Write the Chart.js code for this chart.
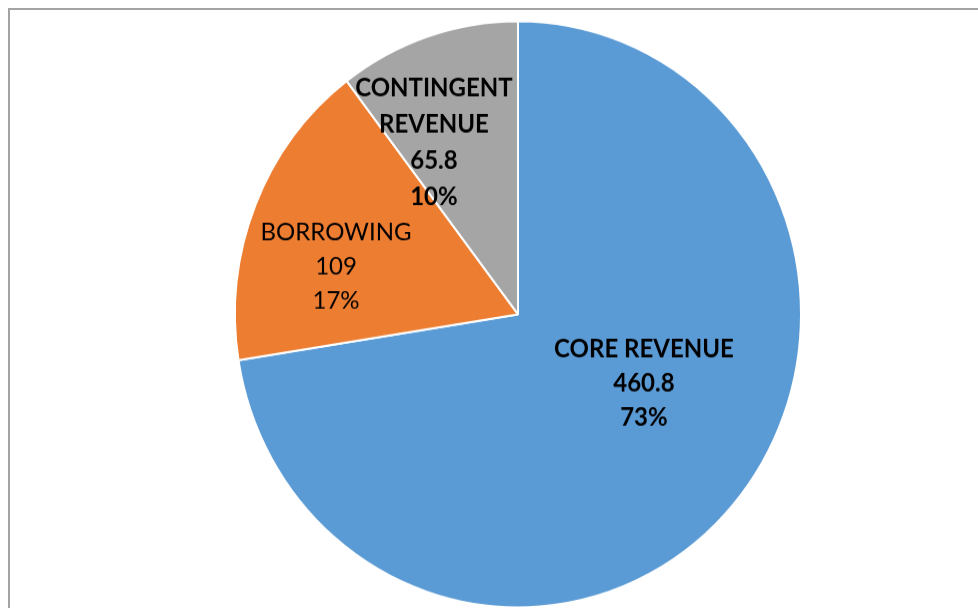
<!DOCTYPE html>
<html>
<head>
<meta charset="utf-8">
<script src="https://cdn.jsdelivr.net/npm/chart.js@4/dist/chart.umd.min.js"></script>
<style>
  html, body { margin: 0; padding: 0; background: #ffffff; }
  #wrap { position: relative; width: 978px; height: 608px; overflow: hidden; background: #ffffff; }
  #frame { position: absolute; left: 8px; top: 8px; right: -4px; bottom: -4px;
           border-top: 2px solid #a3a3a3; border-left: 2px solid #a3a3a3; pointer-events: none; }
  #pie { position: absolute; left: 0; top: 0; transform-origin: 0 0; transform: scaleY(1.0358); }
</style>
</head>
<body>
<div id="wrap">
  <canvas id="pie" width="978" height="620"></canvas>
  <div id="frame"></div>
</div>
<script>
// Revenue sources
const categories = ['CORE REVENUE', 'BORROWING', 'CONTINGENT REVENUE'];
const amounts = [460.8, 109, 65.8];
const amountLabels = ['460.8', '109', '65.8'];
const shareLabels = ['73%', '17%', '10%'];
const sliceColors = ['#5B9BD5', '#ED7D31', '#A5A5A5'];

// label text lines per slice (category name may wrap)
const nameLines = [['CORE REVENUE'], ['BORROWING'], ['CONTINGENT', 'REVENUE']];
// where each label block sits, in fractions of the pie radius from its centre
const labelAnchor = [[0.445, 0.238], [-0.643, -0.163], [-0.297, -0.586]];
const labelBold = [true, false, true];
const labelLineHeight = [33, 33, 35];

const sliceLabels = {
  id: 'sliceLabels',
  afterDatasetsDraw(chart) {
    const ctx = chart.ctx;
    const arcs = chart.getDatasetMeta(0).data;
    ctx.save();
    ctx.fillStyle = '#000000';
    ctx.textAlign = 'center';
    ctx.textBaseline = 'middle';
    arcs.forEach((arc, i) => {
      const r = arc.outerRadius;
      const cx = arc.x + labelAnchor[i][0] * r;
      const cy = arc.y + labelAnchor[i][1] * r;
      const lines = nameLines[i].concat([amountLabels[i], shareLabels[i]]);
      const lh = labelLineHeight[i];
      ctx.font = (labelBold[i] ? 'bold ' : '') + '24px Lato, "Open Sans", sans-serif';
      const top = cy - (lines.length - 1) * lh / 2;
      lines.forEach((t, k) => ctx.fillText(t, cx, top + k * lh));
    });
    ctx.restore();
  }
};

new Chart(document.getElementById('pie'), {
  type: 'pie',
  data: {
    labels: categories,
    datasets: [{
      data: amounts,
      backgroundColor: sliceColors,
      borderColor: '#ffffff',
      borderWidth: 2,
      hoverOffset: 0
    }]
  },
  options: {
    responsive: false,
    animation: false,
    devicePixelRatio: 1,
    radius: 283,
    layout: { padding: { left: 58, right: 0, top: 0, bottom: 13.2 } },
    plugins: {
      legend: { display: false },
      tooltip: { enabled: false }
    }
  },
  plugins: [sliceLabels]
});
</script>
</body>
</html>
